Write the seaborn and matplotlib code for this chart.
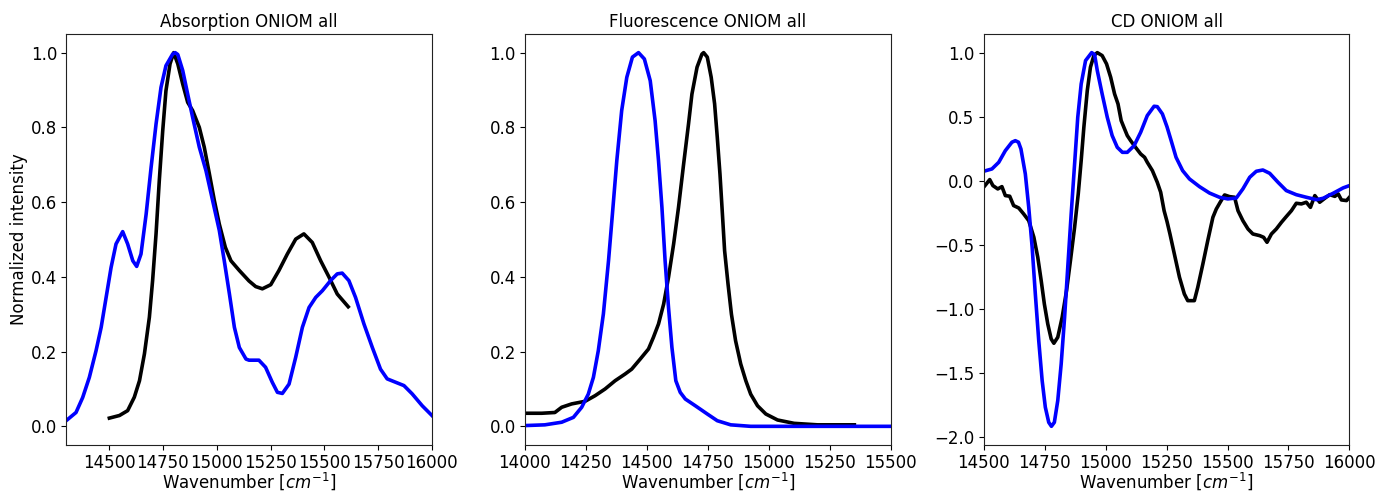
import numpy as np
import pandas as pd
import matplotlib
matplotlib.use("Agg")
import matplotlib.pyplot as plt
import seaborn as sns

# ---------------- Absorption ----------------
abs_calc_x = [14300, 14346, 14377, 14408, 14439, 14463, 14486, 14509, 14532, 14563, 14586, 14610,
              14628, 14648, 14672, 14695, 14718, 14741, 14764, 14795, 14807, 14819, 14842, 14865,
              14888, 14919, 14950, 14981, 15012, 15035, 15059, 15082, 15105, 15136, 15150, 15196,
              15227, 15258, 15282, 15305, 15336, 15367, 15398, 15429, 15460, 15491, 15529, 15560,
              15583, 15614, 15645, 15684, 15723, 15761, 15792, 15831, 15870, 15908, 15955, 16000]
abs_calc_y = [0.015, 0.037, 0.077, 0.131, 0.202, 0.265, 0.345, 0.425, 0.488, 0.521, 0.488, 0.443,
              0.428, 0.461, 0.568, 0.693, 0.809, 0.907, 0.965, 0.996, 1.0, 0.995, 0.952, 0.889,
              0.827, 0.747, 0.684, 0.604, 0.524, 0.443, 0.354, 0.265, 0.211, 0.180, 0.177, 0.177,
              0.158, 0.118, 0.091, 0.088, 0.113, 0.185, 0.265, 0.318, 0.345, 0.363, 0.390, 0.408,
              0.410, 0.390, 0.345, 0.274, 0.211, 0.153, 0.127, 0.118, 0.109, 0.087, 0.055, 0.029]
abs_exp_x = [14501, 14548, 14586, 14617, 14641, 14664, 14687, 14702, 14718, 14733, 14749, 14764,
             14783, 14800, 14819, 14842, 14865, 14888, 14919, 14942, 14966, 14989, 15012, 15040,
             15066, 15105, 15150, 15181, 15212, 15251, 15289, 15328, 15367, 15405, 15444, 15483,
             15522, 15560, 15611]
abs_exp_y = [0.022, 0.029, 0.042, 0.078, 0.122, 0.194, 0.292, 0.390, 0.515, 0.657, 0.791, 0.898,
             0.970, 1.0, 0.970, 0.916, 0.867, 0.845, 0.800, 0.747, 0.675, 0.604, 0.541, 0.479,
             0.443, 0.417, 0.389, 0.374, 0.368, 0.379, 0.417, 0.461, 0.501, 0.515, 0.492, 0.443,
             0.399, 0.354, 0.320]

# ---------------- Fluorescence ----------------
flu_calc_x = [14000, 14082, 14151, 14199, 14233, 14260, 14281, 14301, 14322, 14343, 14359, 14377,
              14397, 14418, 14441, 14466, 14490, 14514, 14534, 14548, 14562, 14575, 14589, 14603,
              14619, 14637, 14658, 14699, 14748, 14789, 14844, 14926, 15500]
flu_calc_y = [0.002, 0.004, 0.011, 0.024, 0.051, 0.086, 0.131, 0.202, 0.301, 0.443, 0.568, 0.711,
              0.845, 0.934, 0.988, 1.0, 0.983, 0.925, 0.818, 0.711, 0.586, 0.443, 0.318, 0.211,
              0.122, 0.091, 0.073, 0.055, 0.033, 0.015, 0.004, 0.0, 0.0]
flu_exp_x = [14000, 14069, 14123, 14151, 14192, 14247, 14288, 14329, 14370, 14411, 14438, 14473,
             14507, 14527, 14548, 14569, 14589, 14610, 14630, 14651, 14671, 14685, 14706, 14726,
             14733, 14748, 14764, 14778, 14789, 14800, 14810, 14819, 14833, 14847, 14864, 14885,
             14906, 14926, 14954, 14988, 15036, 15104, 15200, 15351]
flu_exp_y = [0.035, 0.035, 0.037, 0.051, 0.060, 0.067, 0.082, 0.100, 0.122, 0.140, 0.153, 0.180,
             0.207, 0.238, 0.274, 0.327, 0.399, 0.488, 0.586, 0.702, 0.809, 0.889, 0.961, 0.996,
             1.0, 0.988, 0.934, 0.863, 0.773, 0.675, 0.568, 0.470, 0.381, 0.300, 0.229, 0.167,
             0.122, 0.086, 0.055, 0.033, 0.017, 0.008, 0.004, 0.004]

# ---------------- CD ----------------
cd_calc_x = [14500, 14534, 14562, 14589, 14616, 14630, 14643, 14653, 14671, 14685, 14699, 14712,
             14726, 14740, 14753, 14767, 14778, 14790, 14804, 14818, 14832, 14845, 14859, 14873,
             14886, 14900, 14918, 14943, 14955, 14966, 14986, 15007, 15027, 15048, 15069, 15089,
             15117, 15144, 15171, 15199, 15212, 15233, 15252, 15269, 15289, 15316, 15344, 15385,
             15426, 15467, 15501, 15536, 15563, 15591, 15618, 15645, 15673, 15707, 15741, 15782,
             15823, 15865, 15892, 15933, 15974, 16000]
cd_calc_y = [0.073, 0.091, 0.143, 0.234, 0.300, 0.312, 0.300, 0.247, 0.052, -0.209, -0.521, -0.886,
             -1.25, -1.563, -1.771, -1.889, -1.92, -1.889, -1.719, -1.433, -1.068, -0.677, -0.261, 0.130,
             0.495, 0.755, 0.938, 1.0, 0.985, 0.860, 0.677, 0.495, 0.352, 0.260, 0.221, 0.221,
             0.273, 0.378, 0.508, 0.581, 0.578, 0.521, 0.420, 0.312, 0.182, 0.078, 0.013, -0.047,
             -0.097, -0.130, -0.143, -0.136, -0.065, 0.026, 0.073, 0.083, 0.057, -0.013, -0.078, -0.110,
             -0.130, -0.149, -0.138, -0.099, -0.057, -0.039]
cd_exp_x = [14500, 14511, 14525, 14538, 14558, 14575, 14589, 14607, 14623, 14644, 14664, 14685,
            14706, 14722, 14736, 14749, 14763, 14777, 14788, 14804, 14822, 14840, 14856, 14873,
            14888, 14900, 14911, 14925, 14938, 14952, 14966, 14986, 15004, 15021, 15037, 15051,
            15064, 15075, 15089, 15103, 15123, 15144, 15160, 15171, 15192, 15212, 15226, 15240,
            15252, 15264, 15282, 15303, 15323, 15337, 15364, 15378, 15399, 15419, 15440, 15454,
            15470, 15488, 15508, 15529, 15543, 15563, 15584, 15604, 15632, 15648, 15662, 15680,
            15700, 15721, 15741, 15762, 15782, 15803, 15823, 15840, 15858, 15878, 15899, 15919,
            15940, 15954, 15967, 15988, 16000]
cd_exp_y = [-0.052, -0.026, 0.008, -0.039, -0.065, -0.047, -0.117, -0.122, -0.195, -0.214, -0.260, -0.313,
            -0.443, -0.599, -0.781, -0.964, -1.120, -1.237, -1.271, -1.224, -1.068, -0.860, -0.625, -0.365,
            -0.104, 0.156, 0.417, 0.703, 0.886, 0.977, 1.0, 0.977, 0.912, 0.807, 0.677, 0.599,
            0.469, 0.417, 0.352, 0.312, 0.260, 0.208, 0.182, 0.143, 0.078, -0.013, -0.091, -0.235,
            -0.320, -0.417, -0.573, -0.755, -0.886, -0.938, -0.938, -0.834, -0.651, -0.469, -0.287, -0.222,
            -0.169, -0.112, -0.125, -0.130, -0.235, -0.313, -0.378, -0.417, -0.430, -0.443, -0.482, -0.417,
            -0.378, -0.326, -0.281, -0.235, -0.177, -0.182, -0.169, -0.209, -0.117, -0.169, -0.138, -0.110,
            -0.123, -0.104, -0.151, -0.156, -0.130]

titles = ["Absorption ONIOM all", "Fluorescence ONIOM all", "CD ONIOM all"]
xlims = [(14300, 16000), (14000, 15500), (14500, 16000)]
xticks = [list(range(14500, 16001, 250)), list(range(14000, 15501, 250)), list(range(14500, 16001, 250))]
ylims = [(-0.05, 1.05), (-0.05, 1.05), (-2.066, 1.146)]
yticks = [[0.0, 0.2, 0.4, 0.6, 0.8, 1.0], [0.0, 0.2, 0.4, 0.6, 0.8, 1.0],
          [-2.0, -1.5, -1.0, -0.5, 0.0, 0.5, 1.0]]

panels = [
    ((abs_exp_x, abs_exp_y), (abs_calc_x, abs_calc_y)),
    ((flu_exp_x, flu_exp_y), (flu_calc_x, flu_calc_y)),
    ((cd_exp_x, cd_exp_y), (cd_calc_x, cd_calc_y)),
]

plt.rcParams["font.size"] = 12
plt.rcParams["font.family"] = ["DejaVu Sans"]

fig, axes = plt.subplots(1, 3, figsize=(13.77, 4.92), dpi=100)
fig.subplots_adjust(left=0.048, right=0.98, top=0.931, bottom=0.0955, wspace=0.254)

for i, ax in enumerate(axes):
    (ex, ey), (cx, cy) = panels[i]
    sns.lineplot(x=ex, y=ey, ax=ax, color="black", lw=2.6, sort=False, estimator=None)
    sns.lineplot(x=cx, y=cy, ax=ax, color="#0000ff", lw=2.6, sort=False, estimator=None)
    ax.set_xlim(*xlims[i])
    ax.set_ylim(*ylims[i])
    ax.set_xticks(xticks[i])
    ax.set_yticks(yticks[i])
    ax.set_title(titles[i], fontsize=12, pad=5)
    ax.set_xlabel(r"Wavenumber [$cm^{-1}$]", fontsize=12, labelpad=-1)
    ax.tick_params(labelsize=12, pad=3)
    for s in ax.spines.values():
        s.set_color("#222222")

axes[0].set_ylabel("Normalized intensity", fontsize=12, labelpad=2)

fig.savefig("out.png", dpi=100)
